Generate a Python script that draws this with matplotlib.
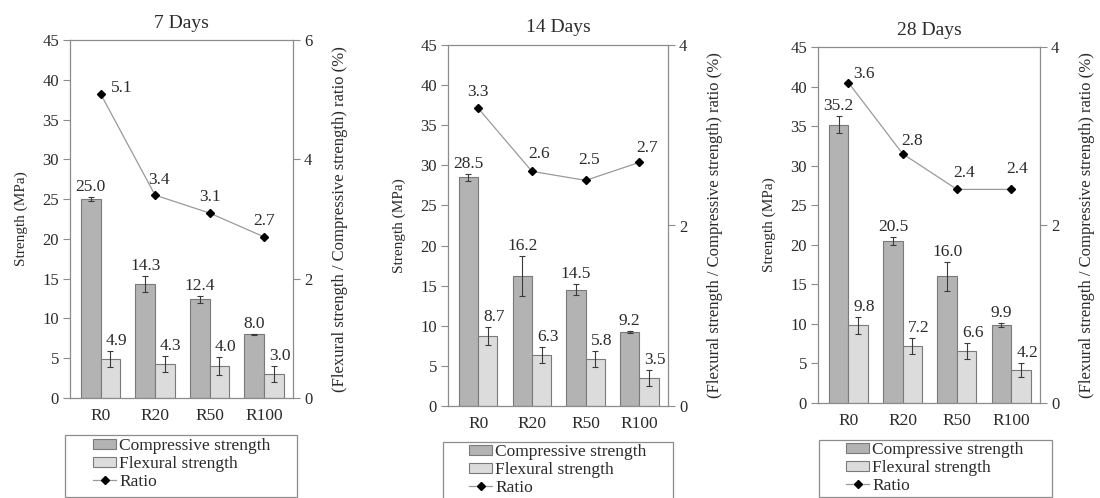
import matplotlib
matplotlib.use("Agg")
import matplotlib.pyplot as plt
from matplotlib.patches import Patch, Rectangle
from matplotlib.lines import Line2D
import numpy as np

W, H = 1100, 498

mixes = ["R0", "R20", "R50", "R100"]
ages = ["7 Days", "14 Days", "28 Days"]

comp_7 = [25.0, 14.3, 12.4, 8.0]
comp_7_err = [0.3, 1.0, 0.45, 0.1]
flex_7 = [4.9, 4.3, 4.0, 3.0]
flex_7_err = [1.0, 1.0, 1.1, 1.0]
ratio_7 = [5.1, 3.4, 3.1, 2.7]

comp_14 = [28.5, 16.2, 14.5, 9.2]
comp_14_err = [0.4, 2.45, 0.7, 0.1]
flex_14 = [8.7, 6.3, 5.8, 3.5]
flex_14_err = [1.1, 1.0, 1.0, 1.0]
ratio_14 = [3.3, 2.6, 2.5, 2.7]

comp_28 = [35.2, 20.5, 16.0, 9.9]
comp_28_err = [1.1, 0.5, 1.8, 0.25]
flex_28 = [9.8, 7.2, 6.6, 4.2]
flex_28_err = [1.1, 1.0, 1.0, 0.9]
ratio_28 = [3.6, 2.8, 2.4, 2.4]

ratio_max = [6, 4, 4]
ratio_ticks = [[0, 2, 4, 6], [0, 2, 4], [0, 2, 4]]

# layout (pixels in the 1100x498 figure): axes box left, top, right, bottom
axes_px = [(70, 40, 293, 398), (448, 45, 668, 406), (818, 47, 1040, 403)]
# legend frame: left, top, right, bottom ; legend content anchor (x, y)
legend_box_px = [(65, 435, 297, 497), (443, 442, 673, 510), (819, 440, 1052, 497)]
legend_anchor_px = [(93, 438), (469, 444), (846, 442)]
# ratio label offsets (pixels) and alignment
ratio_offsets = [
    [(10, 6, "left"), (4, 15, "center"), (0, 16, "center"), (0, 16, "center")],
    [(0, 16, "center"), (7, 17, "center"), (3, 20, "center"), (8, 14, "center")],
    [(5, 9, "left"), (9, 13, "center"), (7, 16, "center"), (6, 20, "center")],
]

COMP_C = "#b3b3b3"
FLEX_C = "#dcdcdc"
EDGE_C = "#7a7a7a"
SPINE_C = "#8c8c8c"
TEXT_C = "#2b2b2b"

plt.rcParams["font.family"] = ["Liberation Serif", "DejaVu Serif"]
plt.rcParams["text.color"] = TEXT_C
plt.rcParams["axes.labelcolor"] = TEXT_C
plt.rcParams["xtick.color"] = SPINE_C
plt.rcParams["ytick.color"] = SPINE_C
plt.rcParams["xtick.labelcolor"] = TEXT_C
plt.rcParams["ytick.labelcolor"] = TEXT_C

panels = [
    (comp_7, comp_7_err, flex_7, flex_7_err, ratio_7),
    (comp_14, comp_14_err, flex_14, flex_14_err, ratio_14),
    (comp_28, comp_28_err, flex_28, flex_28_err, ratio_28),
]

fig = plt.figure(figsize=(W / 100, H / 100), dpi=100)
x = np.arange(len(mixes))
bw = 0.36

for i, (comp, comp_err, flex, flex_err, ratio) in enumerate(panels):
    l, t, r, b = axes_px[i]
    ax = fig.add_axes([l / W, 1 - b / H, (r - l) / W, (b - t) / H])

    ax.bar(x - bw / 2, comp, bw, color=COMP_C, edgecolor=EDGE_C, linewidth=0.8, zorder=2)
    ax.bar(x + bw / 2, flex, bw, color=FLEX_C, edgecolor=EDGE_C, linewidth=0.8, zorder=2)
    ax.errorbar(x - bw / 2, comp, yerr=comp_err, fmt="none", ecolor="#3a3a3a",
                elinewidth=0.8, capsize=2.5, capthick=0.8, zorder=3)
    ax.errorbar(x + bw / 2, flex, yerr=flex_err, fmt="none", ecolor="#3a3a3a",
                elinewidth=0.8, capsize=2.5, capthick=0.8, zorder=3)

    for xi, v, e in zip(x, comp, comp_err):
        ax.annotate(f"{v:.1f}", (xi - bw / 2, v + e), xytext=(0, 2),
                    textcoords="offset pixels", ha="center", va="bottom", fontsize=12.5)
    for xi, v, e in zip(x, flex, flex_err):
        ax.annotate(f"{v:.1f}", (xi + bw / 2, v + e), xytext=(6, 2),
                    textcoords="offset pixels", ha="center", va="bottom", fontsize=12.5)

    ax.set_xlim(-0.56, 3.53)
    ax.set_ylim(0, 45)
    ax.set_yticks(np.arange(0, 46, 5))
    ax.set_xticks(x)
    ax.set_xticklabels(mixes)
    ax.tick_params(axis="x", length=0, pad=7, labelsize=12.5)
    ax.tick_params(axis="y", length=5, width=0.8, pad=3, labelsize=12)
    for s in ax.spines.values():
        s.set_color(SPINE_C)
        s.set_linewidth(0.9)
    ax.set_title(ages[i], fontsize=14, pad=9)
    ax.set_ylabel("Strength (MPa)", fontsize=11)
    ax.yaxis.set_label_coords(-42 / (r - l), 0.5)

    ax2 = ax.twinx()
    ax2.plot(x, ratio, color="#9a9a9a", linewidth=0.9, marker="D", markersize=4,
             markerfacecolor="black", markeredgecolor="black", zorder=4)
    for xi, v, (dx, dy, ha) in zip(x, ratio, ratio_offsets[i]):
        ax2.annotate(f"{v:.1f}", (xi, v), xytext=(dx, dy), textcoords="offset pixels",
                     ha=ha, va="center", fontsize=12.5)
    ax2.set_ylim(0, ratio_max[i])
    ax2.set_yticks(ratio_ticks[i])
    ax2.tick_params(axis="y", length=5, width=0.8, pad=3, labelsize=12)
    for s in ax2.spines.values():
        s.set_visible(False)
    ax2.set_ylabel("(Flexural strength / Compressive strength) ratio (%)", fontsize=12)
    ax2.yaxis.set_label_coords(1 + 39 / (r - l), 0.5)

    # legend
    bl, bt, br, bb = legend_box_px[i]
    fig.patches.append(Rectangle((bl / W, 1 - bb / H), (br - bl) / W, (bb - bt) / H,
                                 transform=fig.transFigure, fill=False,
                                 edgecolor=SPINE_C, linewidth=0.9))
    handles = [
        Patch(facecolor=COMP_C, edgecolor=EDGE_C, linewidth=0.8),
        Patch(facecolor=FLEX_C, edgecolor=EDGE_C, linewidth=0.8),
        Line2D([], [], color="#9a9a9a", linewidth=0.9, marker="D", markersize=4,
               markerfacecolor="black", markeredgecolor="black"),
    ]
    ax_, ay_ = legend_anchor_px[i]
    fig.legend(handles, ["Compressive strength", "Flexural strength", "Ratio"],
               loc="upper left", bbox_to_anchor=(ax_ / W, 1 - ay_ / H),
               frameon=False, fontsize=12.5, borderpad=0, borderaxespad=0,
               labelspacing=0.12, handlelength=1.35, handleheight=0.55,
               handletextpad=0.15)

fig.savefig("out.png", dpi=100)
